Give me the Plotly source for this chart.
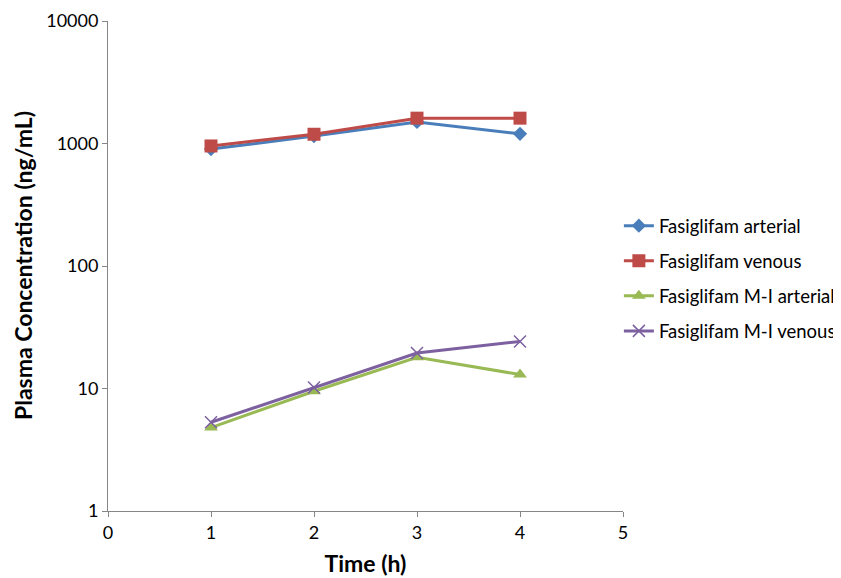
import plotly.graph_objects as go

time_h = [1, 2, 3, 4]
fas_arterial = [900, 1150, 1500, 1200]
fas_venous = [955, 1190, 1610, 1610]
mi_arterial = [4.8, 9.5, 18.0, 13.0]
mi_venous = [5.3, 10.2, 19.5, 24.2]

names = ["Fasiglifam arterial", "Fasiglifam venous",
         "Fasiglifam M-I arterial", "Fasiglifam M-I venous"]
colors = ["#4A7EBB", "#BE4B48", "#98B954", "#7D60A0"]
symbols = ["diamond", "square", "triangle-up", "x-thin-open"]
sizes = [11, 13, 12, 12]
series = [fas_arterial, fas_venous, mi_arterial, mi_venous]
y_ticks = [1, 10, 100, 1000, 10000]
y_ticktext = ["1", "10", "100", "1000", "10000"]

FONT = "Lato"
fig = go.Figure()
for i, (nm, c, s, sz, ys) in enumerate(zip(names, colors, symbols, sizes, series)):
    marker = dict(symbol=s, size=sz, color=c)
    if s == "x-thin-open":
        marker["line"] = dict(width=1.5, color=c)
    fig.add_trace(go.Scatter(
        x=time_h, y=ys, name=nm, mode="lines+markers",
        line=dict(color=c, width=3), marker=marker, legendgroup=str(i)))

fig.update_layout(
    width=833, height=570,
    margin=dict(l=100, r=218, t=13, b=67, autoexpand=False),
    paper_bgcolor="white", plot_bgcolor="white",
    font=dict(family=FONT, size=18, color="black"),
    legend=dict(x=0.992, y=0.62, xanchor="left", yanchor="top",
                font=dict(size=18.5), tracegroupgap=8, itemwidth=30),
    xaxis=dict(range=[0, 5], tickvals=[0, 1, 2, 3, 4, 5], showgrid=False,
               showline=True, linecolor="#868686", linewidth=1,
               ticks="outside", tickcolor="#868686", ticklen=5,
               zeroline=False, tickfont=dict(size=18), automargin=False,
               title=dict(text="<b>Time (h)</b>", font=dict(size=23), standoff=14)),
    yaxis=dict(type="log", range=[0, 4], tickvals=y_ticks,
               ticktext=y_ticktext, ticksuffix="\u2002", showgrid=False,
               showline=True, linecolor="#868686", linewidth=1,
               ticks="outside", tickcolor="#868686", ticklen=5,
               zeroline=False, tickfont=dict(size=18), automargin=False),
    annotations=[dict(text="<b>Plasma Concentration (ng/mL)</b>", textangle=-90,
                      xref="paper", yref="paper", x=-0.165, y=0.5,
                      xanchor="center", yanchor="middle", showarrow=False,
                      font=dict(size=23))],
)
fig.write_html("out.html")
